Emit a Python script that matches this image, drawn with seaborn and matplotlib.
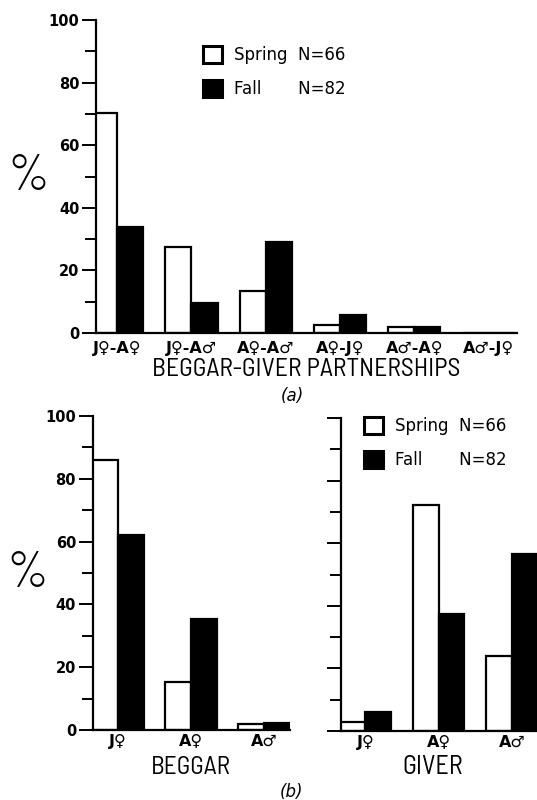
import os
import matplotlib
matplotlib.use("Agg")
import matplotlib.pyplot as plt
import seaborn as sns
import pandas as pd
from matplotlib import font_manager
from matplotlib.patches import Patch
from matplotlib.ticker import MultipleLocator

# ---------------- data ----------------
partners = ["J♀-A♀", "J♀-A♂", "A♀-A♂", "A♀-J♀", "A♂-A♀", "A♂-J♀"]
partner_spring = [70.4, 27.5, 13.5, 2.6, 1.8, 0.0]
partner_fall = [34.0, 9.6, 29.2, 5.9, 2.0, 0.0]

roles = ["J♀", "A♀", "A♂"]
beggar_spring = [86.0, 15.4, 2.0]
beggar_fall = [62.1, 35.4, 2.2]
giver_spring = [3.0, 72.3, 24.1]
giver_fall = [6.2, 37.3, 56.6]

seasons = ["Spring", "Fall"]
legend_labels = ["Spring  N=66", "Fall       N=82"]
y_ticks = [0, 20, 40, 60, 80, 100]

# ---------------- style ----------------
sns.set_style("ticks")
plt.rcParams["font.family"] = ["DejaVu Sans"]
for k in ["text.color", "axes.labelcolor", "xtick.color", "ytick.color", "axes.edgecolor"]:
    plt.rcParams[k] = "black"
W, H = 537, 800

_fnames = sorted({e.fname for e in font_manager.fontManager.ttflist})
_bad_weights = ["bold", "italic", "oblique", "thin", "black", "medium", "heavy", "semibold"]


def pick(keys, exclude):
    for fn in _fnames:
        b = os.path.basename(fn).lower()
        if all(k in b for k in keys) and not any(x in b for x in exclude):
            return fn
    return None


def find_label_font():
    fn = pick(["semicondensed"], _bad_weights + ["light"]) \
        or pick(["narrow"], _bad_weights + ["light"]) \
        or pick(["condensed"], _bad_weights + ["light", "extracondensed", "ultracondensed"])
    if fn:
        return font_manager.FontProperties(fname=fn)
    return font_manager.FontProperties(family=["Liberation Sans", "DejaVu Sans"])


def find_light_font(default):
    fn = pick(["semicondensed", "light"], ["extralight", "italic"]) \
        or pick(["condensed", "light"], ["extralight", "italic", "extracondensed"])
    if fn:
        return font_manager.FontProperties(fname=fn)
    return default


label_fp = find_label_font()
pct_fp = find_light_font(label_fp)

fig = plt.figure(figsize=(W / 100, H / 100), dpi=100)


def px_axes(left, right, top, bottom):
    return fig.add_axes([left / W, 1 - bottom / H, (right - left) / W, (bottom - top) / H])


def long_df(cats, spring, fall):
    return pd.DataFrame({
        "cat": list(cats) * 2,
        "season": ["Spring"] * len(cats) + ["Fall"] * len(cats),
        "value": list(spring) + list(fall),
    })


def draw(ax, cats, spring, fall, xlim, ylabels=True, xpad=4):
    df = long_df(cats, spring, fall)
    sns.barplot(data=df, x="cat", y="value", hue="season", order=cats,
                hue_order=seasons, palette={"Spring": "white", "Fall": "black"},
                edgecolor="black", linewidth=1.6, width=0.70, gap=0,
                saturation=1, errorbar=None, legend=False, ax=ax)
    ax.set_xlim(*xlim)
    ax.set_ylim(0, 100)
    ax.set_xlabel("")
    ax.set_ylabel("")
    for s in ["top", "right"]:
        ax.spines[s].set_visible(False)
    for s in ["left", "bottom"]:
        ax.spines[s].set_linewidth(1.6)
    ax.set_yticks(y_ticks)
    ax.yaxis.set_minor_locator(MultipleLocator(10))
    ax.tick_params(axis="y", which="major", length=10, width=1.4, pad=2,
                   labelsize=10.5, labelleft=ylabels)
    ax.tick_params(axis="y", which="minor", length=8, width=1.4)
    ax.tick_params(axis="x", length=0, pad=xpad, labelsize=11.5)
    for t in ax.get_yticklabels():
        t.set_fontweight("bold")
    for t in ax.get_xticklabels():
        t.set_fontweight("bold")
    ax.set_facecolor("none")


def text_size(t):
    fig.canvas.draw()
    r = fig.canvas.get_renderer()
    bb = t.get_window_extent(r)
    return bb.width, bb.height


def fit_text(t, target_w):
    w, _ = text_size(t)
    t.set_fontsize(t.get_fontsize() * target_w / w)


def percent_label(ax, cx, cy, ax_left, ax_bottom, ax_w, ax_h):
    ax.set_ylabel("%", rotation=0, ha="center", va="center",
                  fontproperties=pct_fp)
    lab = ax.yaxis.label
    lab.set_fontsize(40)
    fit_text(lab, 42)
    ax.yaxis.set_label_coords((cx - ax_left) / ax_w, (ax_bottom - cy) / ax_h)


def legend(ax, x, y):
    handles = [Patch(facecolor="white", edgecolor="black", linewidth=2.2),
               Patch(facecolor="black", edgecolor="black", linewidth=2.2)]
    ax.legend(handles, legend_labels, loc="upper left",
              bbox_to_anchor=(x / W, 1 - y / H), bbox_transform=fig.transFigure,
              frameon=False, fontsize=12, handlelength=1.15, handleheight=1.2,
              handletextpad=0.7, labelspacing=0.95, borderpad=0, borderaxespad=0)


# ---------------- panel (a) ----------------
ax_a = px_axes(96, 517, 20, 333)
draw(ax_a, partners, partner_spring, partner_fall, (-0.285, 5.38), xpad=6)
legend(ax_a, 203, 46)
xl = ax_a.text(0.5, (333 - 370) / 313, "BEGGAR-GIVER PARTNERSHIPS",
               transform=ax_a.transAxes, ha="center", va="center",
               fontproperties=label_fp)
xl.set_fontsize(16)
fit_text(xl, 308)
fig.text(292 / W, 1 - 396 / H, "(a)", fontsize=12, style="italic",
         ha="center", va="center")
percent_label(ax_a, 28, 177, 96, 333, 421, 313)

# ---------------- panel (b) ----------------
ax_b1 = px_axes(92.7, 290, 416, 730)
draw(ax_b1, roles, beggar_spring, beggar_fall, (-0.347, 2.356), xpad=3)
b1 = ax_b1.text(1.0, -37 / 314, "BEGGAR", transform=ax_b1.get_xaxis_transform(),
                ha="center", va="center", fontproperties=label_fp)
b1.set_fontsize(15)
fit_text(b1, 80)
percent_label(ax_b1, 27, 574, 92.7, 730, 197.3, 314)

ax_b2 = px_axes(341, 537, 418, 731)
draw(ax_b2, roles, giver_spring, giver_fall, (-0.334, 2.341), ylabels=False, xpad=3)
b2 = ax_b2.text(0.92, -36 / 313, "GIVER", transform=ax_b2.get_xaxis_transform(),
                ha="center", va="center", fontproperties=label_fp)
b2.set_fontsize(15)
fit_text(b2, 61)
legend(ax_b2, 364, 417)

fig.text(291 / W, 1 - 792 / H, "(b)", fontsize=12, style="italic",
         ha="center", va="center")

fig.savefig("out.png", dpi=100)
